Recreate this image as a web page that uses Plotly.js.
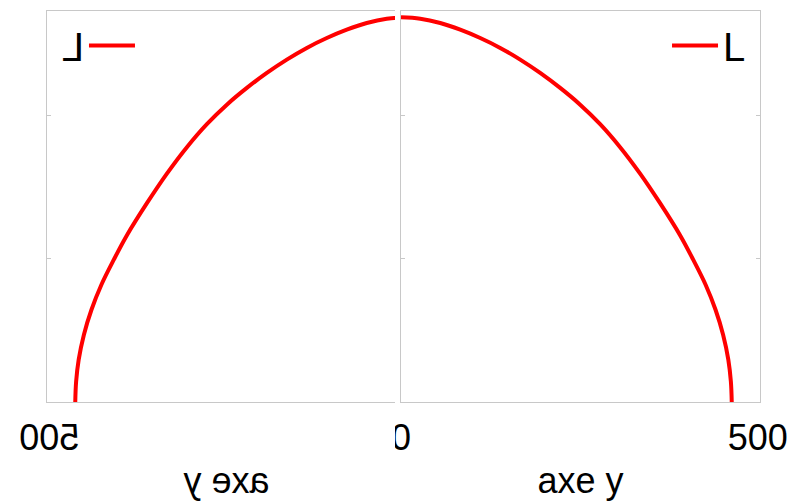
<!DOCTYPE html>
<html>
<head>
<meta charset="utf-8">
<script src="https://cdn.plot.ly/plotly-3.0.1.min.js"></script>
<style>
  html, body { margin: 0; padding: 0; background: #fff; }
  #page { position: relative; width: 795px; height: 502px; overflow: hidden; background: #fff; }
  .clip { position: absolute; top: 0; height: 502px; overflow: hidden; background: #fff; }
  #clipLeft { left: 0; width: 397px; }
  #clipRight { left: 395px; width: 400px; }
  .plot { position: absolute; top: 0; width: 795px; height: 502px; }
  #plotRight { left: -395px; }
  #plotLeft { left: 11.6px; transform: scaleX(-1); }
</style>
</head>
<body>
<div id="page">
  <div class="clip" id="clipLeft"><div class="plot" id="plotLeft"></div></div>
  <div class="clip" id="clipRight"><div class="plot" id="plotRight"></div></div>
</div>
<script>
// courbe
const xVals = [0, 27, 55, 83, 111, 139, 167, 195, 223, 251, 279, 307, 335, 363, 391, 409.4, 426.8, 440.7, 451.3, 458.6, 462.2, 463.4];
const yVals = [2.69, 2.68, 2.65, 2.603, 2.545, 2.476, 2.394, 2.301, 2.196, 2.079, 1.943, 1.782, 1.597, 1.39, 1.166, 0.995, 0.82, 0.645, 0.471, 0.296, 0.142, 0.0];
const seriesName = 'L';
const xTicks = [0, 500];
const xTitle = 'axe y';

const font = 'Liberation Sans, Arial, sans-serif';
const frame = '#c8c8c8';

const data = [
    {
        x: xVals,
        y: yVals,
        name: seriesName,
        type: 'scatter',
        mode: 'lines',
        line: { color: '#ff0000', width: 4, shape: 'spline', smoothing: 1 }
    }
];

const layout = {
    width: 795,
    height: 502,
    margin: { l: 401, r: 35, t: 11, b: 100 },
    font: { family: font, size: 36, color: '#000' },
    showlegend: true,
    legend: {
        x: 0.975, xanchor: 'right', y: 0.995, yanchor: 'top',
        itemwidth: 46,
        bgcolor: 'rgba(0,0,0,0)',
        font: { family: font, size: 40, color: '#000' }
    },
    xaxis: {
        range: [0, 503],
        tickvals: xTicks,
        ticktext: xTicks.map(String),
        ticks: '',
        ticklabelstandoff: 4,
        showgrid: false,
        zeroline: false,
        showline: true,
        mirror: true,
        linecolor: frame,
        linewidth: 1,
        tickfont: { family: font, size: 36, color: '#000' },
        title: { text: xTitle, font: { family: font, size: 36, color: '#000' }, standoff: 10 }
    },
    yaxis: {
        range: [0, 2.734],
        dtick: 1,
        ticks: 'inside',
        ticklen: 4,
        tickcolor: frame,
        showticklabels: false,
        showgrid: false,
        zeroline: false,
        showline: true,
        mirror: 'ticks',
        linecolor: frame,
        linewidth: 1
    },
    plot_bgcolor: '#fff',
    paper_bgcolor: '#fff'
};

const config = { displayModeBar: false, staticPlot: true };

Plotly.newPlot('plotRight', data, layout, config);
// même graphique, retourné en miroir pour la moitié gauche
Plotly.newPlot('plotLeft', data, layout, config);
</script>
</body>
</html>
